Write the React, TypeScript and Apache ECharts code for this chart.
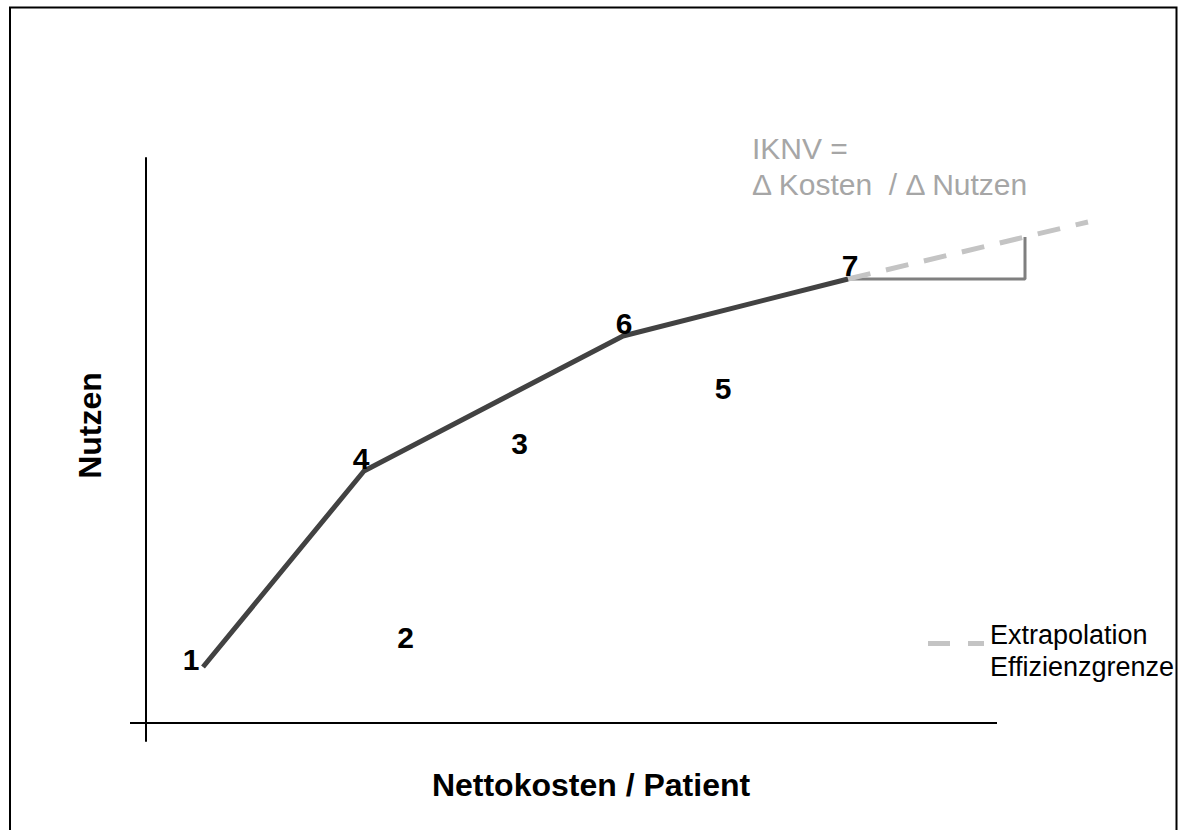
import React, { useEffect, useRef } from "react";
import * as echarts from "echarts";

// Alternatives (net cost per patient vs. benefit), in chart units
const alternatives = ["1", "2", "3", "4", "5", "6", "7"];
const kosten = [57, 259.5, 373.5, 218, 577, 477, 702];
const nutzen = [56, 86, 280, 252, 335, 387, 444];
// Alternatives on the efficiency frontier (indices into the arrays above)
const frontierIdx = [0, 3, 5, 6];
// Extrapolation of the efficiency frontier beyond alternative 7
const extrapolationEnd = [942, 501];
// ICER triangle corner (Δ Kosten along x, Δ Nutzen along y)
const triangleCornerX = 879;

// Drawn extent of the cost axis and of the benefit axis
const costAxisLine = [-16, 851];
const axisXRange = [-16, 954];
const axisYRange = [-18, 565];

const FONT = "'Liberation Sans', Arial, Helvetica, sans-serif";

export default function App() {
  const ref = useRef<HTMLDivElement>(null);

  useEffect(() => {
    if (!ref.current) return;
    const chart = echarts.init(ref.current, null, { renderer: "svg" });

    const frontier = frontierIdx.map((i) => [kosten[i], nutzen[i]]);
    const p7 = frontier[frontier.length - 1];
    const slope = (extrapolationEnd[1] - p7[1]) / (extrapolationEnd[0] - p7[0]);
    const triangle = [
      [p7[0], p7[1]],
      [triangleCornerX, p7[1]],
      [triangleCornerX, p7[1] + slope * (triangleCornerX - p7[0])],
    ];

    const labelOffsets: Record<string, number[]> = {
      "1": [-12, -8],
      "4": [-3, -13],
      "6": [1, -13],
      "7": [2, -14],
    };

    const points = alternatives.map((name, i) => ({
      name,
      value: [kosten[i], nutzen[i]],
      label: { offset: labelOffsets[name] || [0, 0] },
    }));

    const option = {
      animation: false,
      backgroundColor: "#ffffff",
      grid: { left: 130, right: 78, top: 158, bottom: 89 },
      xAxis: {
        type: "value",
        min: axisXRange[0],
        max: axisXRange[1],
        axisLine: { show: false },
        axisTick: { show: false },
        axisLabel: { show: false },
        splitLine: { show: false },
      },
      yAxis: {
        type: "value",
        min: axisYRange[0],
        max: axisYRange[1],
        axisLine: { show: true, onZero: true, lineStyle: { color: "#000", width: 2 } },
        axisTick: { show: false },
        axisLabel: { show: false },
        splitLine: { show: false },
      },
      series: [
        {
          name: "Kostenachse",
          type: "line",
          data: [
            [costAxisLine[0], 0],
            [costAxisLine[1], 0],
          ],
          symbol: "none",
          silent: true,
          lineStyle: { color: "#000", width: 2 },
          z: 1,
        },
        {
          name: "IKNV",
          type: "line",
          data: triangle,
          symbol: "none",
          lineStyle: { color: "#7f7f7f", width: 3 },
          z: 2,
        },
        {
          name: "Extrapolation Effizienzgrenze",
          type: "line",
          data: [p7, extrapolationEnd],
          symbol: "none",
          lineStyle: { color: "#c4c4c4", width: 5, type: [23, 16], cap: "butt" },
          z: 3,
        },
        {
          name: "Effizienzgrenze",
          type: "line",
          data: frontier,
          symbol: "none",
          lineStyle: { color: "#424242", width: 5, join: "round" },
          z: 4,
        },
        {
          name: "Alternativen",
          type: "scatter",
          data: points,
          symbolSize: 0,
          itemStyle: { opacity: 1 },
          label: {
            show: true,
            position: "inside",
            formatter: "{b}",
            color: "#000000",
            opacity: 1,
            textBorderWidth: 0,
            textBorderColor: "transparent",
            fontSize: 30,
            fontWeight: "bold",
            fontFamily: FONT,
          },
          z: 5,
        },
      ],
      graphic: [
        {
          type: "rect",
          shape: { x: 10, y: 7.5, width: 1166.5, height: 900 },
          style: { fill: "none", stroke: "#000", lineWidth: 2 },
          silent: true,
        },
        {
          type: "text",
          x: 591,
          y: 785,
          style: {
            text: "Nettokosten / Patient",
            x: 0,
            y: 0,
            textAlign: "center",
            textVerticalAlign: "middle",
            fontSize: 32,
            fontWeight: "bold",
            fontFamily: FONT,
            fill: "#000",
          },
        },
        {
          type: "text",
          x: 90,
          y: 425.5,
          rotation: Math.PI / 2,
          style: {
            text: "Nutzen",
            x: 0,
            y: 0,
            textAlign: "center",
            textVerticalAlign: "middle",
            fontSize: 32,
            fontWeight: "bold",
            fontFamily: FONT,
            fill: "#000",
          },
        },
        {
          type: "text",
          x: 752,
          y: 148.5,
          style: {
            text: "IKNV =",
            textAlign: "left",
            textVerticalAlign: "middle",
            fontSize: 30,
            fontFamily: FONT,
            fill: "#a6a6a6",
          },
        },
        {
          type: "text",
          x: 752,
          y: 184.5,
          style: {
            text: "Δ Kosten  / Δ Nutzen",
            textAlign: "left",
            textVerticalAlign: "middle",
            fontSize: 30,
            fontFamily: FONT,
            fill: "#a6a6a6",
          },
        },
        {
          type: "line",
          shape: { x1: 928, y1: 643.5, x2: 950, y2: 643.5 },
          style: { stroke: "#c4c4c4", lineWidth: 5 },
        },
        {
          type: "line",
          shape: { x1: 968, y1: 643.5, x2: 984, y2: 643.5 },
          style: { stroke: "#c4c4c4", lineWidth: 5 },
        },
        {
          type: "text",
          x: 990,
          y: 634.5,
          style: {
            text: "Extrapolation",
            textAlign: "left",
            textVerticalAlign: "middle",
            fontSize: 27,
            fontFamily: FONT,
            fill: "#000",
          },
        },
        {
          type: "text",
          x: 990,
          y: 666.5,
          style: {
            text: "Effizienzgrenze",
            textAlign: "left",
            textVerticalAlign: "middle",
            fontSize: 27,
            fontFamily: FONT,
            fill: "#000",
          },
        },
      ],
    };

    chart.setOption(option as any);
    return () => chart.dispose();
  }, []);

  return (
    <div
      ref={ref}
      style={{ position: "fixed", left: 0, top: 0, width: 1178, height: 830, background: "#fff" }}
    />
  );
}
